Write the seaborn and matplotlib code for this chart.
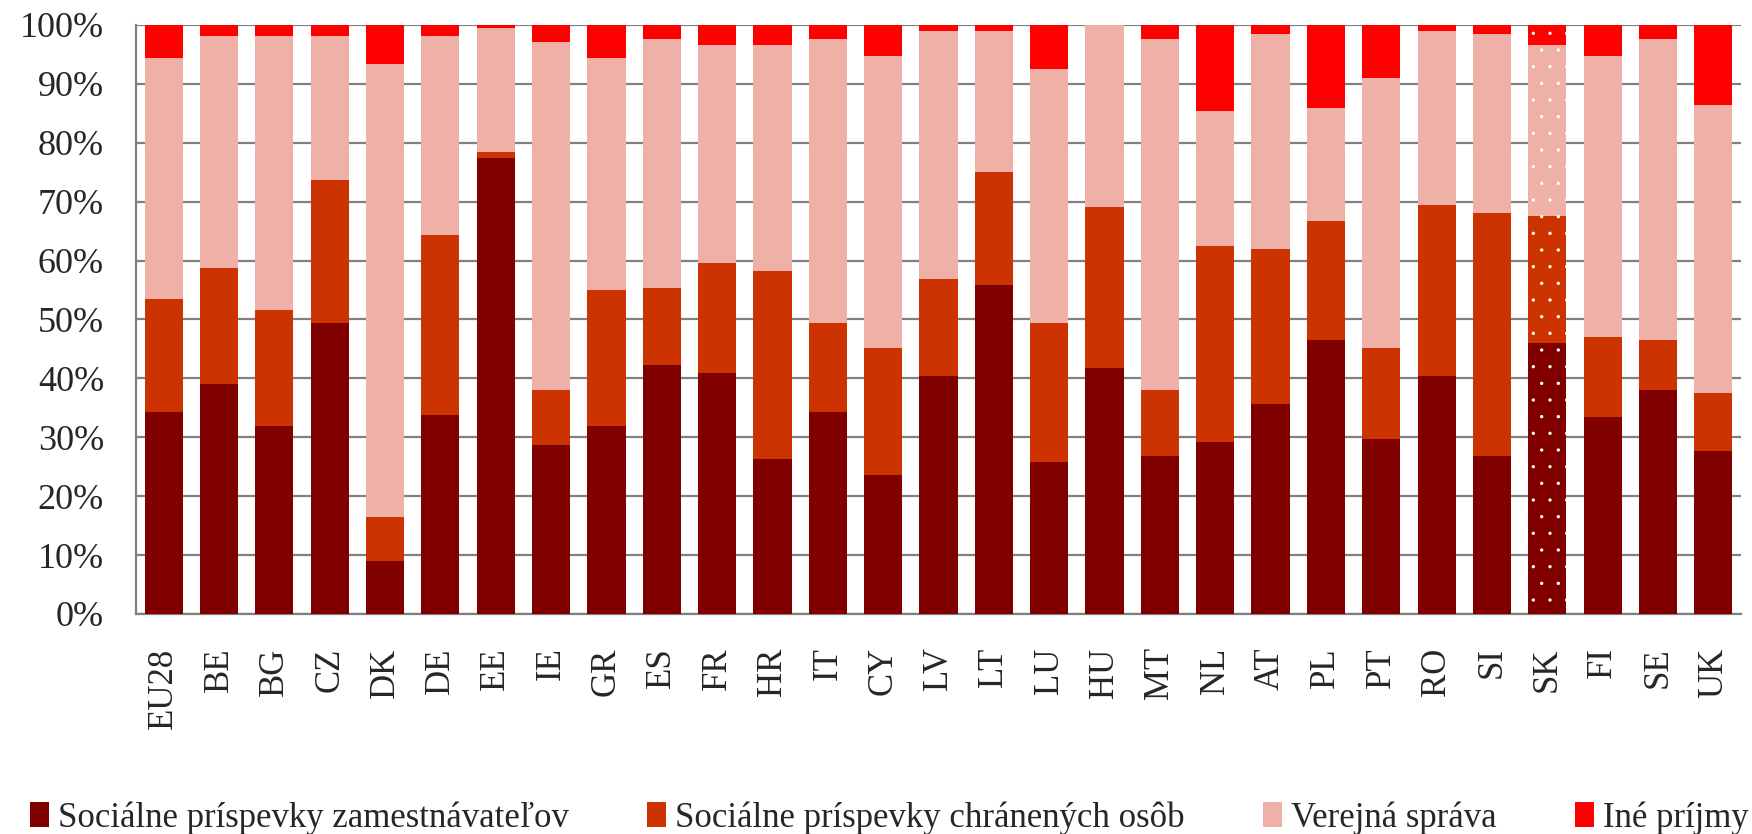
import numpy as np
import pandas as pd
import matplotlib
matplotlib.use("Agg")
import matplotlib.pyplot as plt
import seaborn as sns
from matplotlib.patches import Patch

countries = ["EU28", "BE", "BG", "CZ", "DK", "DE", "EE", "IE", "GR", "ES", "FR", "HR", "IT",
             "CY", "LV", "LT", "LU", "HU", "MT", "NL", "AT", "PL", "PT", "RO", "SI", "SK",
             "FI", "SE", "UK"]
employers = [34.3, 39.0, 31.9, 49.4, 9.0, 33.8, 77.4, 28.7, 31.9, 42.3, 40.9, 26.3, 34.3,
             23.6, 40.4, 55.9, 25.8, 41.8, 26.8, 29.2, 35.7, 46.5, 29.7, 40.4, 26.8, 46.0,
             33.4, 38.0, 27.7]
protected = [19.2, 19.7, 19.7, 24.3, 7.5, 30.5, 1.0, 9.3, 23.1, 13.0, 18.7, 31.9, 15.1,
             21.6, 16.5, 19.1, 23.6, 27.3, 11.2, 33.3, 26.3, 20.2, 15.5, 29.0, 41.3, 21.6,
             13.6, 8.5, 9.8]
government = [40.9, 39.4, 46.5, 24.4, 76.9, 33.8, 21.1, 59.1, 39.4, 42.3, 37.0, 38.4, 48.2,
              49.5, 42.1, 24.0, 43.1, 30.9, 59.6, 22.9, 36.5, 19.2, 45.8, 29.6, 30.4, 29.0,
              47.7, 51.1, 48.9]
other = [5.6, 1.9, 1.9, 1.9, 6.6, 1.9, 0.5, 2.9, 5.6, 2.4, 3.4, 3.4, 2.4,
         5.3, 1.0, 1.0, 7.5, 0.0, 2.4, 14.6, 1.5, 14.1, 9.0, 1.0, 1.5, 3.4,
         5.3, 2.4, 13.6]
series_names = ["Sociálne príspevky zamestnávateľov", "Sociálne príspevky chránených osôb",
                "Verejná správa", "Iné príjmy"]
colors = ["#800000", "#CC3300", "#EFB0A8", "#FF0000"]
yticks = list(range(0, 101, 10))
highlight = "SK"

df = pd.DataFrame({"country": countries, "s1": employers, "s2": protected,
                   "s3": government, "s4": other})
df["c1"] = df["s1"]
df["c2"] = df["c1"] + df["s2"]
df["c3"] = df["c2"] + df["s3"]
df["c4"] = df["c3"] + df["s4"]

sns.set_style("white")
plt.rcParams["font.family"] = ["Liberation Serif", "DejaVu Serif"]
plt.rcParams["hatch.linewidth"] = 0.0

fig = plt.figure(figsize=(17.52, 8.34), dpi=100)
ax = fig.add_axes([136 / 1752, 1 - 614 / 834, (1741 - 136) / 1752, (614 - 25) / 834])

for col, c in zip(["c4", "c3", "c2", "c1"], colors[::-1]):
    sns.barplot(data=df, x="country", y=col, color=c, width=0.69, saturation=1,
                order=countries, ax=ax, linewidth=0, errorbar=None, zorder=3)

# dotted pattern for the highlighted country
idx = countries.index(highlight)
n = len(countries)
for k, p in enumerate(ax.patches):
    if k % n == idx:
        p.set_hatch(".")
        p.set_edgecolor("white")
        p.set_linewidth(0)

ax.set_ylim(0, 100)
ax.set_xlim(-0.5, n - 0.5)
ax.set_yticks(yticks)
ax.set_yticklabels([f"{v}%" for v in yticks])
ax.set_xlabel("")
ax.set_ylabel("")
ax.yaxis.grid(True, color="#808080", linewidth=1.6, zorder=0)
ax.set_axisbelow(True)
for s in ["top", "right"]:
    ax.spines[s].set_visible(False)
for s in ["left", "bottom"]:
    ax.spines[s].set_color("#808080")
    ax.spines[s].set_linewidth(1.6)

ax.set_xticks(np.arange(n))
ax.set_xticklabels(countries, rotation=90, fontsize=25, va="top")
ax.set_xticks(np.arange(n + 1) - 0.5, minor=True)
ax.tick_params(axis="x", which="major", length=0, pad=24)
ax.tick_params(axis="x", which="minor", length=9, width=1.6, color="#808080", direction="out")
ax.tick_params(axis="y", length=9, width=1.6, color="#808080", direction="out",
               labelsize=26, pad=14)

handles = [Patch(facecolor=c, edgecolor="none") for c in colors]
fig.legend(handles, series_names, loc="lower left", ncol=4, mode="expand",
           bbox_to_anchor=(0.015, -0.005, 0.985, 0.06), frameon=False, fontsize=25,
           handlelength=0.55, handleheight=0.7, handletextpad=0.25, borderaxespad=0,
           borderpad=0.1)

fig.savefig("out.png", dpi=100)
